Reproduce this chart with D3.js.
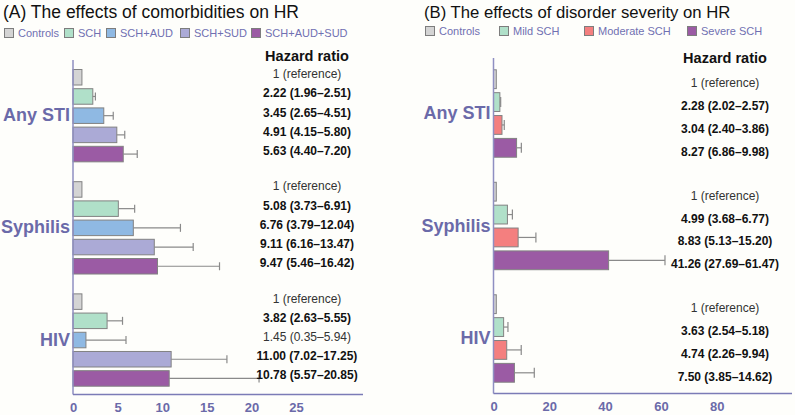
<!DOCTYPE html>
<html>
<head>
<meta charset="utf-8">
<script src="https://cdn.jsdelivr.net/npm/d3@7"></script>
<style>
  body { margin: 0; background: #fefefb; }
  svg { display: block; font-family: Arial, "Liberation Sans", sans-serif; }
</style>
</head>
<body>
<svg id="chart" width="795" height="415"></svg>
<script>
// data
var groups = ["Any STI", "Syphilis", "HIV"]

var seriesA = ["Controls", "SCH", "SCH+AUD", "SCH+SUD", "SCH+AUD+SUD"]
var hrA = [[1, 2.22, 3.45, 4.91, 5.63], [1, 5.08, 6.76, 9.11, 9.47], [1, 3.82, 1.45, 11.00, 10.78]]
var loA = [[null, 1.96, 2.65, 4.15, 4.40], [null, 3.73, 3.79, 6.16, 5.46], [null, 2.63, 0.35, 7.02, 5.57]]
var hiA = [[null, 2.51, 4.51, 5.80, 7.20], [null, 6.91, 12.04, 13.47, 16.42], [null, 5.55, 5.94, 17.25, 20.85]]
var ticksA = [0, 5, 10, 15, 20, 25]

var seriesB = ["Controls", "Mild SCH", "Moderate SCH", "Severe SCH"]
var hrB = [[1, 2.28, 3.04, 8.27], [1, 4.99, 8.83, 41.26], [1, 3.63, 4.74, 7.50]]
var loB = [[null, 2.02, 2.40, 6.86], [null, 3.68, 5.13, 27.69], [null, 2.54, 2.26, 3.85]]
var hiB = [[null, 2.57, 3.86, 9.98], [null, 6.77, 15.20, 61.47], [null, 5.18, 9.94, 14.62]]
var ticksB = [0, 20, 40, 60, 80]

var colorsA = ["#d4d4d4", "#b0e0c9", "#8fb9e3", "#abaad6", "#9b5ba4"]
var colorsB = ["#d4d4d4", "#b0e0c9", "#f47f7f", "#9b5ba4"]

var purple = "#6b6aa9"
var svg = d3.select("#chart")

function panel(cfg) {
    var x = d3.scaleLinear().domain(cfg.domain).range([cfg.x0, cfg.x1])

    var y0 = d3.scaleBand().domain(groups).range(cfg.yRange).paddingInner(cfg.groupPad)
    var y1 = d3.scaleBand().domain(cfg.series).range([0, y0.bandwidth()]).paddingInner(cfg.barPad)
    var color = d3.scaleOrdinal().domain(cfg.series).range(cfg.colors)

    var rows = []
    groups.forEach(function (g, gi) {
        cfg.series.forEach(function (s, si) {
            rows.push({ group: g, series: s, hr: cfg.hr[gi][si], lo: cfg.lo[gi][si], hi: cfg.hi[gi][si] })
        })
    })

    var g = svg.append("g")

    // title
    g.append("text")
        .attr("x", cfg.titleX).attr("y", 18)
        .attr("font-size", cfg.titleSize).attr("fill", "#111")
        .text(cfg.title)

    // legend
    var leg = g.selectAll(".leg").data(cfg.series).enter().append("g")
        .attr("transform", (d, i) => `translate(${cfg.legendX[i]},${cfg.legendY})`)
    leg.append("rect")
        .attr("x", 0.5).attr("y", -4.5).attr("width", 9).attr("height", 9)
        .attr("fill", d => color(d)).attr("stroke", "#7d7d7d")
    leg.append("text")
        .attr("x", 14).attr("y", 4)
        .attr("font-size", 11).attr("fill", "#7070b2")
        .text(d => d)

    // bars
    g.selectAll(".bar").data(rows).enter().append("rect")
        .attr("x", x(0))
        .attr("y", d => y0(d.group) + y1(d.series) + 0.5)
        .attr("width", d => x(d.hr) - x(0))
        .attr("height", y1.bandwidth() - 1)
        .attr("fill", d => color(d.series))
        .attr("stroke", "#828282").attr("stroke-width", 1)

    // error bars (upper only)
    var eb = rows.filter(d => d.hi != null)
    g.selectAll(".err").data(eb).enter().append("line")
        .attr("x1", d => x(d.hr)).attr("x2", d => x(d.hi))
        .attr("y1", d => y0(d.group) + y1(d.series) + y1.bandwidth() / 2)
        .attr("y2", d => y0(d.group) + y1(d.series) + y1.bandwidth() / 2)
        .attr("stroke", "#8a8a8a").attr("stroke-width", 1.2)
    g.selectAll(".cap").data(eb).enter().append("line")
        .attr("x1", d => x(d.hi)).attr("x2", d => x(d.hi))
        .attr("y1", d => y0(d.group) + y1(d.series) + y1.bandwidth() / 2 - cfg.cap)
        .attr("y2", d => y0(d.group) + y1(d.series) + y1.bandwidth() / 2 + cfg.cap)
        .attr("stroke", "#8a8a8a").attr("stroke-width", 1.2)

    // hazard ratio column
    g.append("text")
        .attr("x", cfg.textX).attr("y", cfg.headY)
        .attr("text-anchor", "middle").attr("font-size", 14.5).attr("font-weight", "bold")
        .attr("fill", "#111")
        .text("Hazard ratio")

    var f = d3.format(".2f")
    g.selectAll(".val").data(rows).enter().append("text")
        .attr("x", cfg.textX)
        .attr("y", d => y0(d.group) + y1(d.series) + y1.bandwidth() / 2 + cfg.textDy + 4.5)
        .attr("text-anchor", "middle").attr("font-size", 12)
        .attr("font-weight", d => (d.lo == null || d.lo < 1) ? "normal" : "bold")
        .attr("fill", d => (d.lo == null || d.lo < 1) ? "#333" : "#111")
        .text(d => d.lo == null ? "1 (reference)" : `${f(d.hr)} (${f(d.lo)}\u2013${f(d.hi)})`)

    // group labels
    g.selectAll(".grp").data(groups).enter().append("text")
        .attr("x", cfg.x0 - 3)
        .attr("y", d => y0(d) + y0.bandwidth() / 2 + 5.5)
        .attr("text-anchor", "end").attr("font-size", 18).attr("font-weight", "bold")
        .attr("fill", purple)
        .text(d => d)

    // axes
    g.append("line")
        .attr("x1", cfg.x0).attr("x2", cfg.x0)
        .attr("y1", cfg.axisTop).attr("y2", cfg.axisY)
        .attr("stroke", "#8f8fc2").attr("stroke-width", 1.5)

    var ax = g.append("g")
        .attr("transform", `translate(0,${cfg.axisY})`)
        .call(d3.axisBottom(x).tickValues(cfg.ticks).tickSize(0).tickPadding(8))
    ax.select(".domain").attr("stroke", "#7b7bb6").attr("stroke-width", 1.5)
        .attr("d", `M${cfg.x0},0H${cfg.axisEnd}`)
    ax.selectAll("text")
        .attr("font-size", 13).attr("font-weight", "bold")
        .attr("fill", purple).attr("font-family", "Arial, 'Liberation Sans', sans-serif")
}

panel({
    title: "(A) The effects of comorbidities on HR", titleX: 3, titleSize: 17.5,
    series: seriesA, hr: hrA, lo: loA, hi: hiA, colors: colorsA, ticks: ticksA,
    domain: [0, 32.5], x0: 73, x1: 363, axisEnd: 363,
    yRange: [69, 386.7], groupPad: 0.168, barPad: 0.14,
    legendX: [4, 64, 106, 180, 251], legendY: 33,
    textX: 307, headY: 61, textDy: -3.5, cap: 4,
    axisTop: 60, axisY: 394.5
})

panel({
    title: "(B) The effects of disorder severity on HR", titleX: 424, titleSize: 16.7,
    series: seriesB, hr: hrB, lo: loB, hi: hiB, colors: colorsB, ticks: ticksB,
    domain: [0, 107], x0: 493.5, x1: 792, axisEnd: 792,
    yRange: [69.3, 382.7], groupPad: 0.214, barPad: 0.134,
    legendX: [425, 499, 584, 687], legendY: 31,
    textX: 725, headY: 63, textDy: 3.5, cap: 5,
    axisTop: 58, axisY: 393.5
})
</script>
</body>
</html>
